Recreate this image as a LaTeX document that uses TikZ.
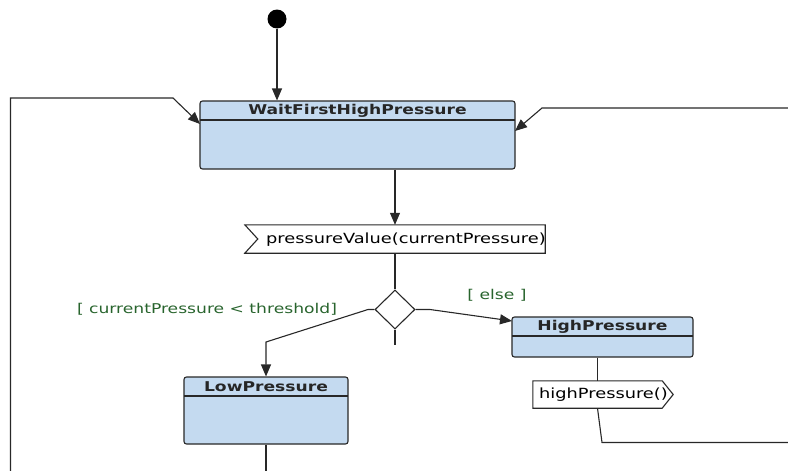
\documentclass[tikz,border=0pt]{standalone}
\usepackage{fontspec}
\setmainfont{DejaVu Sans}[FakeStretch=1.27]
\usetikzlibrary{arrows.meta,shapes.geometric,calc}
\definecolor{statefill}{RGB}{196,218,240}
\definecolor{lineclr}{RGB}{40,40,40}
\definecolor{guardclr}{RGB}{40,100,45}
\tikzset{
  statebox/.style={draw=lineclr,fill=statefill,rounded corners=2.5pt,line width=1.1pt,inner sep=0pt},
  titletext/.style={font=\fontsize{13.5}{14}\selectfont\bfseries,inner sep=0pt,text=black!85},
  evtext/.style={font=\fontsize{14}{15}\selectfont,inner sep=0pt},
  guard/.style={font=\fontsize{13.5}{14}\selectfont,text=guardclr,inner sep=0pt},
  conn/.style={draw=lineclr,line width=1.1pt},
  arr/.style={conn,-{Triangle[length=12pt,width=10pt]}},
}
\begin{document}
\begin{tikzpicture}[x=1pt,y=-1pt]
\useasboundingbox (0,0) rectangle (788,471);
% initial node
\node[circle,fill=black,minimum size=19pt,inner sep=0pt] (init) at (277,19) {};
% states
\node[statebox,minimum width=315pt,minimum height=68pt] (wait) at (357.5,135) {};
\draw[lineclr,line width=1.1pt] (200,120) -- (515,120);
\node[titletext] (waitT) at (357.5,110.5) {WaitFirstHighPressure};

\node[statebox,minimum width=181pt,minimum height=40pt] (high) at (602.5,337) {};
\draw[lineclr,line width=1.1pt] (512,336) -- (693,336);
\node[titletext] (highT) at (602.5,326.5) {HighPressure};

\node[statebox,minimum width=164pt,minimum height=67pt] (low) at (266,410.5) {};
\draw[lineclr,line width=1.1pt] (184,396) -- (348,396);
\node[titletext] (lowT) at (266,386.5) {LowPressure};

% accept event
\node[minimum width=300pt,minimum height=28pt,inner sep=0pt] (pv) at (395,239) {};
\draw[lineclr,line width=1.1pt,fill=white] (pv.north west) -- (pv.north east) -- (pv.south east) -- (pv.south west) -- ($(pv.west)+(13,0)$) -- cycle;
\node[evtext,anchor=west] (pvT) at (266,239.5) {pressureValue(currentPressure)};

% send signal
\node[minimum width=129pt,minimum height=27pt,inner sep=0pt] (hs) at (597.5,394.5) {};
\draw[lineclr,line width=1.1pt,fill=white] (hs.north west) -- (hs.north east) -- ($(hs.east)+(11,0)$) -- (hs.south east) -- (hs.south west) -- cycle;
\node[evtext,anchor=west] (hsT) at (539,395) {highPressure()};

% decision
\node[diamond,draw=lineclr,line width=1.1pt,fill=white,minimum width=40pt,minimum height=39pt,inner sep=0pt,aspect=1] (dec) at (395,309.5) {};
\coordinate (stub) at (395,345);

% connectors
\draw[arr] (init) -- (init |- wait.north);
\draw[arr] (wait.south -| pv.north) -- (pv.north);
\draw[conn] (pv.south) -- (dec.north);
\draw[conn] (dec.south) -- (stub);
\coordinate (l1) at (368,309.5);
\coordinate (l2) at (266,342);
\draw[arr] (dec.west) -- (l1) -- (l2) -- (low.north);
\coordinate (r1) at (430,309.5);
\draw[arr] (dec.east) -- (r1) -- (512,321);
\draw[conn] (high.south -| hs.north) -- (hs.north);
\coordinate (hb) at (602,442.5);
\coordinate (hr) at (788,442.5);
\draw[conn] (hs.south) -- (hb) -- (hr);
\coordinate (lb) at (266,471);
\draw[conn] (low.south) -- (lb);
% loops
\coordinate (a1) at (10.5,471);
\coordinate (a2) at (10.5,98);
\coordinate (a3) at (173,98);
\draw[arr] (a1) -- (a2) -- (a3) -- (200,124);
\coordinate (b1) at (788,108);
\coordinate (b2) at (542,108);
\draw[arr] (b1) -- (b2) -- (515,131);

% guards
\node[guard] (g1) at (207,309) {[ currentPressure < threshold]};
\node[guard] (g2) at (497,295) {[ else ]};
\end{tikzpicture}
\end{document}
